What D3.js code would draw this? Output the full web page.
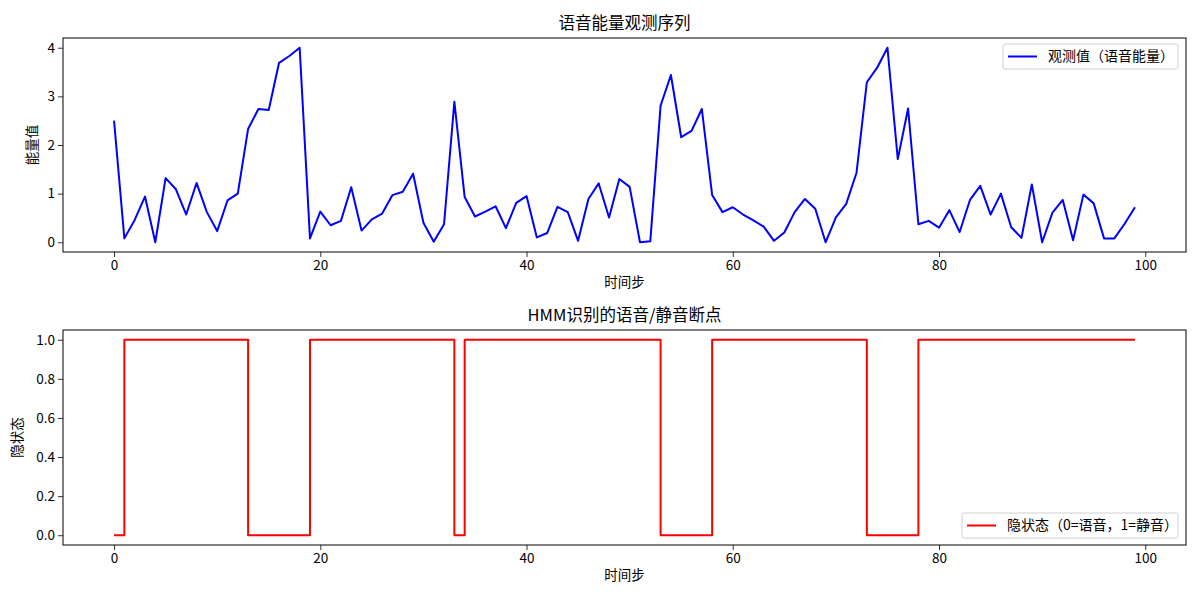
<!DOCTYPE html>
<html>
<head>
<meta charset="utf-8">
<script src="https://cdn.jsdelivr.net/npm/d3@7"></script>
<style>
  body { margin: 0; background: #fff; }
  svg text { font-family: "Noto Sans CJK SC", "DejaVu Sans", sans-serif; fill: #000; }
</style>
</head>
<body>
<div id="hook-chart"></div>
<script>
'use strict';

// observed speech energy, one value per time step
var energy = [
  2.50, 0.08, 0.46, 0.94, 0.00, 1.32, 1.09, 0.57, 1.22, 0.62,
  0.23, 0.86, 1.00, 2.33, 2.74, 2.72, 3.69, 3.83, 4.00, 0.08,
  0.63, 0.35, 0.44, 1.13, 0.24, 0.47, 0.59, 0.97, 1.04, 1.41,
  0.40, 0.01, 0.37, 2.89, 0.93, 0.53, 0.63, 0.74, 0.29, 0.81,
  0.95, 0.10, 0.19, 0.73, 0.62, 0.03, 0.89, 1.21, 0.51, 1.30,
  1.14, 0.00, 0.02, 2.81, 3.44, 2.16, 2.29, 2.74, 0.97, 0.62,
  0.72, 0.57, 0.45, 0.32, 0.03, 0.20, 0.62, 0.89, 0.69, 0.00,
  0.51, 0.79, 1.43, 3.29, 3.59, 4.00, 1.71, 2.75, 0.37, 0.44,
  0.30, 0.66, 0.21, 0.87, 1.16, 0.57, 1.00, 0.31, 0.09, 1.19,
  0.00, 0.61, 0.87, 0.04, 0.98, 0.80, 0.08, 0.08, 0.38, 0.72
];

// hidden state decoded by the HMM (0 = speech, 1 = silence)
var states = [
  0, 1, 1, 1, 1, 1, 1, 1, 1, 1,
  1, 1, 1, 0, 0, 0, 0, 0, 0, 1,
  1, 1, 1, 1, 1, 1, 1, 1, 1, 1,
  1, 1, 1, 0, 1, 1, 1, 1, 1, 1,
  1, 1, 1, 1, 1, 1, 1, 1, 1, 1,
  1, 1, 1, 0, 0, 0, 0, 0, 1, 1,
  1, 1, 1, 1, 1, 1, 1, 1, 1, 1,
  1, 1, 1, 0, 0, 0, 0, 0, 1, 1,
  1, 1, 1, 1, 1, 1, 1, 1, 1, 1,
  1, 1, 1, 1, 1, 1, 1, 1, 1, 1
];

var xTicks = [0, 20, 40, 60, 80, 100];
var energyTicks = [0, 1, 2, 3, 4];
var stateTicks = [0, 0.2, 0.4, 0.6, 0.8, 1.0];

var titles = ['语音能量观测序列', 'HMM识别的语音/静音断点'];
var xLabel = '时间步';
var yLabels = ['能量值', '隐状态'];
var legendLabels = ['观测值（语音能量）', '隐状态（0=语音，1=静音）'];

var options = {
  width: 1200,
  height: 600,
  left: 63,
  right: 1186,
  tickSize: 5,
  fontSize: 13.5,
  legendSize: 14,
  titleSize: 16.5
};

function drawPanel(svg, cfg) {
  var x = d3.scaleLinear()
    .domain([-4.95, 103.95])
    .range([options.left, options.right]);

  var y = d3.scaleLinear()
    .domain(cfg.yDomain)
    .range([cfg.bottom, cfg.top]);

  var g = svg.append('g');

  var xAxis = g.append('g')
    .attr('transform', 'translate(0,' + cfg.bottom + ')')
    .call(d3.axisBottom(x).tickValues(xTicks).tickSize(options.tickSize).tickPadding(3).tickFormat(d3.format('d')));

  var yAxis = g.append('g')
    .attr('transform', 'translate(' + options.left + ',0)')
    .call(d3.axisLeft(y).tickValues(cfg.yTicks).tickSize(options.tickSize).tickPadding(3).tickFormat(cfg.yFormat));

  [xAxis, yAxis].forEach(function(a) {
    a.select('.domain').remove();
    a.selectAll('line').attr('stroke', '#000').attr('stroke-width', 0.8);
    a.selectAll('text').style('font-size', options.fontSize + 'px');
  });

  var line = d3.line()
    .x(function(d, i) { return x(i); })
    .y(function(d) { return y(d); })
    .curve(cfg.curve);

  g.append('path')
    .datum(cfg.values)
    .attr('d', line)
    .attr('fill', 'none')
    .attr('stroke', cfg.color)
    .attr('stroke-width', 2)
    .attr('stroke-linejoin', 'round');

  // frame
  g.append('rect')
    .attr('x', options.left)
    .attr('y', cfg.top)
    .attr('width', options.right - options.left)
    .attr('height', cfg.bottom - cfg.top)
    .attr('fill', 'none')
    .attr('stroke', '#000')
    .attr('stroke-width', 1);

  g.append('text')
    .attr('x', (options.left + options.right) / 2)
    .attr('y', cfg.top - 9)
    .attr('text-anchor', 'middle')
    .style('font-size', options.titleSize + 'px')
    .text(cfg.title);

  g.append('text')
    .attr('x', (options.left + options.right) / 2)
    .attr('y', cfg.bottom + 35)
    .attr('text-anchor', 'middle')
    .style('font-size', options.fontSize + 'px')
    .text(xLabel);

  g.append('text')
    .attr('transform', 'translate(' + cfg.yLabelX + ',' + (cfg.top + cfg.bottom) / 2 + ') rotate(-90)')
    .attr('text-anchor', 'middle')
    .style('font-size', options.fontSize + 'px')
    .text(cfg.yLabel);

  // legend
  var lg = g.append('g')
    .attr('transform', 'translate(' + cfg.legend.x + ',' + cfg.legend.y + ')');

  lg.append('rect')
    .attr('x', 0)
    .attr('y', 0)
    .attr('width', cfg.legend.w)
    .attr('height', 25)
    .attr('rx', 2)
    .attr('fill', '#fff')
    .attr('fill-opacity', 0.8)
    .attr('stroke', '#d0d0d0');

  lg.append('line')
    .attr('x1', 5)
    .attr('x2', 34)
    .attr('y1', 12.5)
    .attr('y2', 12.5)
    .attr('stroke', cfg.color)
    .attr('stroke-width', 2);

  lg.append('text')
    .attr('x', 45)
    .attr('y', 12.5)
    .attr('dy', '0.35em')
    .style('font-size', options.legendSize + 'px')
    .text(cfg.legendLabel);
}

function init() {
  var svg = d3.select('#hook-chart')
    .append('svg')
    .attr('width', options.width)
    .attr('height', options.height);

  drawPanel(svg, {
    top: 38,
    bottom: 252,
    yDomain: [-0.2, 4.2],
    yTicks: energyTicks,
    yFormat: d3.format('d'),
    values: energy,
    curve: d3.curveLinear,
    color: '#0000ff',
    title: titles[0],
    yLabel: yLabels[0],
    yLabelX: 37,
    legendLabel: legendLabels[0],
    legend: { x: 1003, y: 44, w: 175 }
  });

  drawPanel(svg, {
    top: 330,
    bottom: 545,
    yDomain: [-0.05, 1.05],
    yTicks: stateTicks,
    yFormat: d3.format('.1f'),
    values: states,
    curve: d3.curveStepAfter,
    color: '#ff0000',
    title: titles[1],
    yLabel: yLabels[1],
    yLabelX: 22,
    legendLabel: legendLabels[1],
    legend: { x: 962, y: 513, w: 216 }
  });
}
init();
</script>
</body>
</html>
